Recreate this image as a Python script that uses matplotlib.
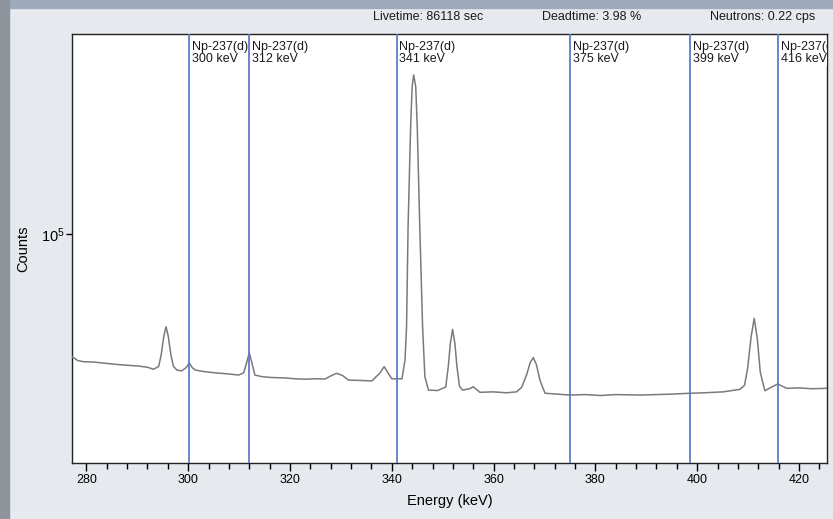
import matplotlib
matplotlib.use("Agg")
import matplotlib.pyplot as plt
from matplotlib.patches import Rectangle
from matplotlib.ticker import FixedLocator, NullLocator, MultipleLocator

plt.rcParams['font.family'] = ['Liberation Sans', 'DejaVu Sans']

# spectrum (energy in keV, counts)
energy = [277.2, 278.3, 279.4, 281.5, 283.7, 286.0, 288.0, 290.2, 292.0, 293.2,
          294.2, 294.7, 295.2, 295.65, 296.1, 296.6, 297.1, 297.8, 298.7, 299.6,
          300.2, 300.8, 301.4, 303.3, 305.5, 307.5, 309.9, 310.9, 311.5, 312.0,
          312.5, 313.1, 314.5, 316.4, 319.0, 321.0, 323.0, 324.9, 326.9, 328.2,
          329.2, 330.3, 331.5, 334.0, 336.1, 337.6, 338.5, 339.3, 340.0, 342.0,
          342.6, 342.9, 343.2, 343.7, 344.0, 344.3, 344.7, 345.0, 345.5, 346.05,
          346.5, 347.2, 349.0, 350.6, 351.1, 351.5, 351.95, 352.4, 352.8, 353.3,
          353.9, 355.3, 356.0, 357.3, 360.0, 362.5, 364.5, 365.5, 366.5, 367.2,
          367.8, 368.4, 369.1, 370.1, 372.5, 375.0, 378.0, 381.0, 384.0, 388.8,
          392.0, 395.0, 398.3, 401.5, 405.1, 408.4, 409.3, 409.9, 410.6, 411.2,
          411.8, 412.4, 413.3, 414.5, 415.8, 417.6, 420.0, 422.5, 425.5]
counts = [57000, 56000, 55700, 55600, 55300, 55000, 54800, 54600, 54300, 53800,
          54500, 57500, 62500, 65400, 62500, 57500, 54500, 53600, 53400, 54200,
          55400, 54200, 53600, 53200, 52900, 52700, 52400, 52900, 55500, 58000,
          55500, 52400, 52000, 51800, 51700, 51500, 51400, 51500, 51450, 52300,
          52800, 52300, 51200, 51100, 51000, 52800, 54450, 52800, 51500, 51500,
          56150, 65400, 103400, 163700, 196700, 207500, 196700, 163700, 103400, 65400,
          52000, 48900, 48800, 49600, 54500, 60500, 64600, 60500, 54500, 49800,
          48900, 49200, 49660, 48400, 48500, 48300, 48500, 49500, 52500, 55500,
          56750, 55000, 51200, 48200, 48000, 47800, 47900, 47700, 47900, 47800,
          47900, 48000, 48180, 48300, 48500, 49070, 50000, 54000, 62500, 67970,
          62000, 53000, 48750, 49500, 50280, 49300, 49400, 49200, 49300]

# library marker lines
marker_energy = [300.2, 312.0, 341.0, 375.1, 398.6, 415.9]
marker_label = ["Np-237(d)\n300 keV", "Np-237(d)\n312 keV", "Np-237(d)\n341 keV",
                "Np-237(d)\n375 keV", "Np-237(d)\n399 keV", "Np-237(d)\n416 keV"]

header = ["Livetime: 86118 sec", "Deadtime: 3.98 %", "Neutrons: 0.22 cps"]

bg = "#e6e9ee"
fig = plt.figure(figsize=(8.33, 5.19), dpi=100, facecolor=bg)
# screenshot frame
fig.patches.append(Rectangle((0, 0.985), 1, 0.015, transform=fig.transFigure,
                             color="#9fabbd", zorder=0))
fig.patches.append(Rectangle((0, 0), 0.011, 1, transform=fig.transFigure,
                             color="#8d949c", zorder=0))

ax = fig.add_axes([0.0864, 0.1079, 0.9064, 0.826])
ax.set_facecolor("white")

ax.plot(energy, counts, color="#7a7a7a", lw=1.1, zorder=4)

for e, lab in zip(marker_energy, marker_label):
    ax.axvline(e, color="#5a7fc6", lw=1.3, zorder=5)
    ax.text(e + 0.5, 0.985, lab, transform=ax.get_xaxis_transform(),
            ha="left", va="top", fontsize=9, color="#1a1a1a", linespacing=1.05,
            bbox=dict(facecolor="white", edgecolor="none", pad=0.6),
            clip_on=True, zorder=3)

ax.set_yscale("log")
ax.set_xlim(277.17, 425.5)
ax.set_ylim(3.5e4, 2.5e5)
ax.yaxis.set_major_locator(FixedLocator([1e5]))
ax.yaxis.set_minor_locator(NullLocator())
ax.xaxis.set_major_locator(MultipleLocator(20))
ax.xaxis.set_minor_locator(MultipleLocator(4))
ax.tick_params(axis="x", which="major", direction="out", length=6, width=1,
               labelsize=9, pad=2)
ax.tick_params(axis="x", which="minor", direction="out", length=4, width=1)
ax.tick_params(axis="y", which="major", direction="out", length=4, width=1,
               labelsize=10.5, pad=1)
for s in ax.spines.values():
    s.set_color("#222222")
    s.set_linewidth(1)

ax.set_xlabel("Energy (keV)", fontsize=10.5, labelpad=6)
ax.set_ylabel("Counts", fontsize=10.5, labelpad=8)

for t, xpos in zip(header, [0.514, 0.710, 0.916]):
    fig.text(xpos, 0.967, t, ha="center", va="center", fontsize=9, color="#1a1a1a")

fig.savefig("out.png", dpi=100, facecolor=bg)
